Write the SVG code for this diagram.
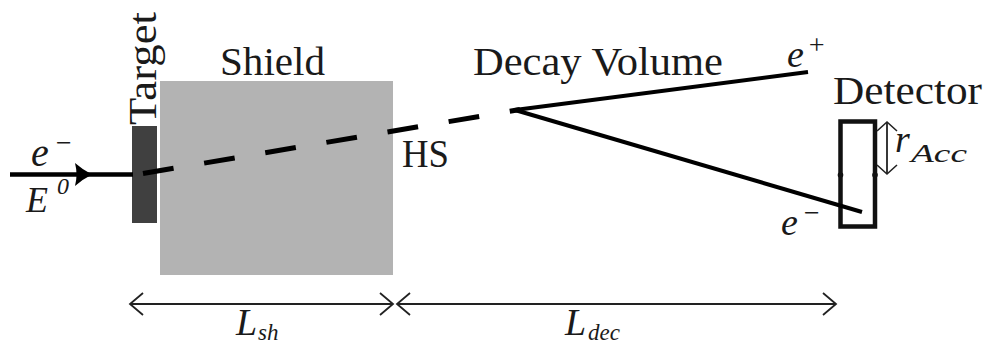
<svg xmlns="http://www.w3.org/2000/svg" width="986" height="345" viewBox="0 0 986 345">
<defs>
<style>
.dim{stroke:#222;stroke-width:1.8;fill:none}
</style>
<marker id="chev" viewBox="0 0 16 24" refX="14" refY="12" markerWidth="16" markerHeight="24" markerUnits="userSpaceOnUse" orient="auto-start-reverse">
<path d="M1,1 L14,12 L1,23" fill="none" stroke="#222" stroke-width="1.8"/>
</marker>
<marker id="chevs" viewBox="0 0 12 22" refX="10" refY="11" markerWidth="12" markerHeight="22" markerUnits="userSpaceOnUse" orient="auto-start-reverse">
<path d="M1,1 L10,11 L1,21" fill="none" stroke="#222" stroke-width="1.6"/>
</marker>
</defs>
<rect width="986" height="345" fill="#fff"/>
<g font-family="Liberation Serif, DejaVu Serif, serif" fill="#1a1a1a">
<g id="shield">
<rect x="160" y="81" width="233" height="194" fill="#b3b3b3"/>
<text x="220" y="75" font-size="41" textLength="105" lengthAdjust="spacingAndGlyphs">Shield</text>
<text x="402" y="167" font-size="41" textLength="47" lengthAdjust="spacingAndGlyphs">HS</text>
</g>
<g id="target">
<rect x="132" y="126" width="25" height="97" fill="#404040"/>
<text transform="translate(156,125) rotate(-90)" x="0" y="0" font-size="41" textLength="113" lengthAdjust="spacingAndGlyphs">Target</text>
</g>
<g id="decay-volume">
<text x="473" y="75" font-size="41" textLength="250" lengthAdjust="spacingAndGlyphs">Decay Volume</text>
</g>
<g id="detector">
<rect x="840.5" y="121.5" width="34.5" height="105" fill="none" stroke="#111" stroke-width="4.5"/>
<circle cx="840.5" cy="175" r="2.8" fill="#111"/>
<circle cx="875" cy="175" r="2.8" fill="#111"/>
<text x="833" y="104" font-size="41" textLength="149" lengthAdjust="spacingAndGlyphs">Detector</text>
<line x1="887" y1="122" x2="887" y2="174" class="dim" marker-start="url(#chevs)" marker-end="url(#chevs)"/>
<text x="895" y="152" font-size="38" font-style="italic">r</text>
<text x="911" y="162" font-size="25" font-style="italic" textLength="56" lengthAdjust="spacingAndGlyphs">Acc</text>
</g>
<g id="beam" font-style="italic">
<text x="31" y="166" font-size="40">e</text>
<text x="54" y="152" font-size="28">−</text>
<text x="26" y="212" font-size="36">E</text>
<text x="57" y="194" font-size="24">0</text>
</g>
<g id="connectors">
<line x1="10" y1="174.5" x2="133" y2="174.5" stroke="#000" stroke-width="4.5"/>
<path d="M75,163 Q83,170 92,174.5 Q83,179 75,186 Q78,174.5 75,163 Z" fill="#000"/>
<line x1="143" y1="173.5" x2="520" y2="109.5" stroke="#000" stroke-width="5" stroke-dasharray="31 31"/>
<line x1="515" y1="110" x2="808" y2="72" stroke="#000" stroke-width="4"/>
<line x1="515" y1="110" x2="862" y2="212" stroke="#000" stroke-width="4"/>
<line x1="130" y1="304" x2="393" y2="304" class="dim" marker-start="url(#chev)" marker-end="url(#chev)"/>
<line x1="397" y1="304" x2="836" y2="304" class="dim" marker-start="url(#chev)" marker-end="url(#chev)"/>
</g>
<g id="labels" font-style="italic">
<text x="787" y="67" font-size="38">e</text>
<text x="807" y="54" font-size="28">+</text>
<text x="781" y="235" font-size="38">e</text>
<text x="802" y="222" font-size="28">−</text>
<text x="236" y="335" font-size="38">L</text>
<text x="258" y="340" font-size="23">sh</text>
<text x="565" y="335" font-size="38">L</text>
<text x="588" y="340" font-size="23">dec</text>
</g>
</g>
</svg>
